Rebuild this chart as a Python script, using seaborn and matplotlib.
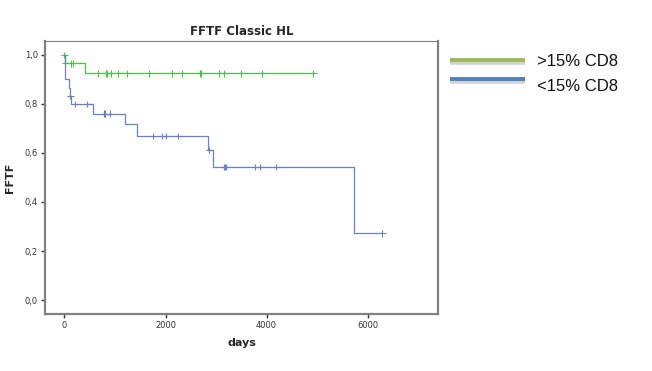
import numpy as np
import pandas as pd
import matplotlib
matplotlib.use("Agg")
import matplotlib.pyplot as plt
from matplotlib.lines import Line2D
from matplotlib.ticker import FuncFormatter
import seaborn as sns

# Kaplan-Meier steps (days, FFTF)
hi_times = [0, 5, 406, 4927]
hi_surv = [1.0, 0.966, 0.925, 0.925]
hi_cens = [0, 20, 130, 170, 657, 822, 848, 921, 1065, 1232, 1679, 2123,
           2321, 2683, 2709, 3065, 3158, 3489, 3917, 4927]

lo_times = [0, 5, 10, 95, 110, 130, 570, 1200, 1430, 2848, 2946, 5727, 6293]
lo_surv = [1.0, 0.967, 0.90, 0.867, 0.833, 0.80, 0.76, 0.717, 0.67, 0.612,
           0.543, 0.272, 0.272]
lo_cens = [115, 214, 451, 788, 808, 901, 1747, 1937, 2010, 2253, 2870,
           3165, 3178, 3190, 3772, 3877, 4194, 6293]

groups = [">15% CD8", "<15% CD8"]
line_cols = {">15% CD8": "#4cbf4c", "<15% CD8": "#6a80c8"}
legend_cols = ["#9bbb59", "#4f81bd"]


def step_value(times, surv, t):
    i = np.searchsorted(times, t, side="right") - 1
    return surv[i]


curves = pd.concat([
    pd.DataFrame({"days": hi_times, "fftf": hi_surv, "group": groups[0]}),
    pd.DataFrame({"days": lo_times, "fftf": lo_surv, "group": groups[1]}),
])
cens = pd.concat([
    pd.DataFrame({"days": hi_cens,
                  "fftf": [step_value(hi_times, hi_surv, t) for t in hi_cens],
                  "group": groups[0]}),
    pd.DataFrame({"days": lo_cens,
                  "fftf": [step_value(lo_times, lo_surv, t) for t in lo_cens],
                  "group": groups[1]}),
])

sns.set_style("white")
plt.rcParams["font.family"] = ["DejaVu Sans"]

fig = plt.figure(figsize=(6.52, 3.71), dpi=100)
ax = fig.add_axes([0.069, 0.1536, 0.603, 0.736])

sns.lineplot(data=curves, x="days", y="fftf", hue="group", palette=line_cols,
             drawstyle="steps-post", linewidth=0.9, legend=False, ax=ax,
             estimator=None, sort=False)
sns.scatterplot(data=cens, x="days", y="fftf", hue="group", palette=line_cols,
                marker="+", s=22, linewidth=0.8, legend=False, ax=ax)

ax.set_xlim(-386, 7396)
ax.set_ylim(-0.057, 1.057)
ax.set_xticks([0, 2000, 4000, 6000])
ax.set_yticks([0.0, 0.2, 0.4, 0.6, 0.8, 1.0])
ax.yaxis.set_major_formatter(FuncFormatter(lambda v, p: f"{v:.1f}".replace(".", ",")))
ax.tick_params(axis="both", direction="out", length=3, width=1, color="#333333",
               labelsize=6, labelcolor="#333333", pad=2)
ax.tick_params(axis="x", bottom=True)
ax.tick_params(axis="y", left=True)

for side in ["left", "bottom", "right"]:
    ax.spines[side].set_color("#808080")
    ax.spines[side].set_linewidth(1.6)
ax.spines["top"].set_color("#808080")
ax.spines["top"].set_linewidth(0.8)

ax.set_title("FFTF Classic HL", fontsize=8.5, fontweight="bold", pad=4)
ax.set_xlabel("days", fontsize=8, fontweight="bold", labelpad=6)
ax.set_ylabel("FFTF", fontsize=8, fontweight="bold", labelpad=7)

# legend drawn beside the plot, like the pasted slide legend
for i, (g, c) in enumerate(zip(groups, legend_cols)):
    y = 0.837 - i * 0.049
    fig.add_artist(Line2D([0.690, 0.805], [y - 0.008, y - 0.008],
                          color="#d3d3d3", linewidth=2.6, solid_capstyle="butt"))
    fig.add_artist(Line2D([0.690, 0.805], [y, y], color=c, linewidth=2.8,
                          solid_capstyle="butt"))
    fig.text(0.824, y - 0.003 - i * 0.019, g, fontsize=12, va="center",
             ha="left", family="Liberation Sans", color="#111111")

fig.savefig("out.png", dpi=100)
